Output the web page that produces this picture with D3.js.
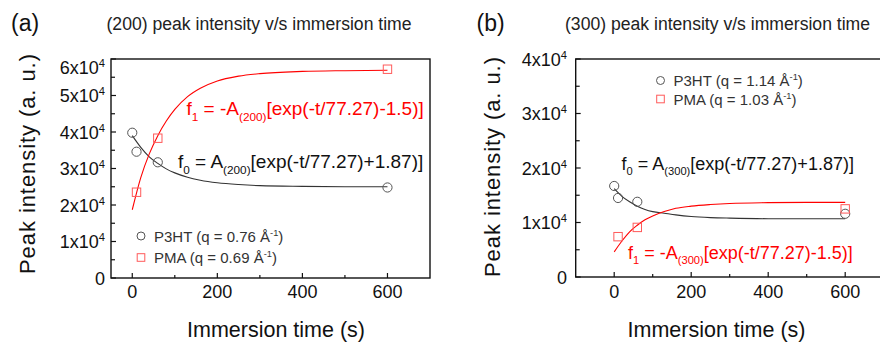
<!DOCTYPE html>
<html>
<head>
<meta charset="utf-8">
<script src="https://cdn.jsdelivr.net/npm/d3@7"></script>
<style>
  body { margin: 0; background: #fff; }
  svg { display: block; font-family: "Liberation Sans", Arial, sans-serif; }
</style>
</head>
<body>
<svg id="chart" width="880" height="342"></svg>
<script>
const majorX = [0, 200, 400, 600];
const minorX = [100, 300, 500];
const fitTime = [0, 20, 40, 60, 80, 100, 130, 160, 200, 250, 300, 400, 500, 600];

// (200) panel
const timeA_P3HT = [0, 10, 60, 600];
const valA_P3HT = [3.98e4, 3.46e4, 3.17e4, 2.48e4];
const timeA_PMA = [10, 60, 600];
const valA_PMA = [2.35e4, 3.83e4, 5.72e4];
const fitA_P3HT = [3.90e4, 3.58e4, 3.32e4, 3.14e4, 2.99e4, 2.88e4, 2.76e4, 2.68e4, 2.61e4, 2.56e4, 2.53e4, 2.51e4, 2.50e4, 2.50e4];
const fitA_PMA = [1.87e4, 2.75e4, 3.40e4, 3.90e4, 4.30e4, 4.62e4, 4.97e4, 5.20e4, 5.40e4, 5.53e4, 5.60e4, 5.66e4, 5.68e4, 5.69e4];
const yTicksA = [0, 1e4, 2e4, 3e4, 4e4, 5e4, 6e4];

// (300) panel
const timeB_P3HT = [0, 10, 60, 600];
const valB_P3HT = [1.67e4, 1.45e4, 1.38e4, 1.16e4];
const timeB_PMA = [10, 60, 600];
const valB_PMA = [0.74e4, 0.91e4, 1.25e4];
const fitB_P3HT = [1.62e4, 1.48e4, 1.38e4, 1.30e4, 1.24e4, 1.20e4, 1.17e4, 1.14e4, 1.11e4, 1.09e4, 1.08e4, 1.07e4, 1.07e4, 1.07e4];
const fitB_PMA = [0.46e4, 0.66e4, 0.83e4, 0.95e4, 1.05e4, 1.12e4, 1.20e4, 1.26e4, 1.30e4, 1.33e4, 1.35e4, 1.365e4, 1.37e4, 1.37e4];
const yTicksB = [0, 1e4, 2e4, 3e4, 4e4];

const svg = d3.select("#chart");
const RED = "#ff0000", MARK_RED = "#ff5a5a", GREY = "#555";

// write text made of plain / sup / sub pieces
function rich(g, parts, size) {
  let shift = 0;
  parts.forEach(p => {
    let target = p[1] === "sup" ? -size * 0.38 : p[1] === "sub" ? size * 0.3 : 0;
    g.append("tspan")
      .attr("dy", target - shift)
      .attr("font-size", p[1] ? size * 0.62 : size)
      .text(p[0]);
    shift = target;
  });
  return g;
}

function panel(cfg) {
  const x = d3.scaleLinear().domain(cfg.xDomain).range([cfg.left, cfg.right]);
  const y = d3.scaleLinear().domain(cfg.yDomain).range([cfg.bottom, cfg.top]);
  const g = svg.append("g");

  // frame
  g.append("rect")
    .attr("x", cfg.left).attr("y", cfg.top)
    .attr("width", cfg.right - cfg.left).attr("height", cfg.bottom - cfg.top)
    .attr("fill", "none").attr("stroke", "#111").attr("stroke-width", 1.4);

  // ticks (inward)
  majorX.forEach(t => g.append("line").attr("x1", x(t)).attr("x2", x(t))
    .attr("y1", cfg.bottom).attr("y2", cfg.bottom - 5).attr("stroke", "#111").attr("stroke-width", 1.2));
  minorX.forEach(t => g.append("line").attr("x1", x(t)).attr("x2", x(t))
    .attr("y1", cfg.bottom).attr("y2", cfg.bottom - 3).attr("stroke", "#111").attr("stroke-width", 1.2));
  cfg.yTicks.forEach((v, i) => {
    g.append("line").attr("x1", cfg.left).attr("x2", cfg.left + 5)
      .attr("y1", y(v)).attr("y2", y(v)).attr("stroke", "#111").attr("stroke-width", 1.2);
    if (i < cfg.yTicks.length - 1) {
      const m = (v + cfg.yTicks[i + 1]) / 2;
      g.append("line").attr("x1", cfg.left).attr("x2", cfg.left + 4)
        .attr("y1", y(m)).attr("y2", y(m)).attr("stroke", "#111").attr("stroke-width", 1.2);
    }
  });

  // tick labels
  majorX.forEach(t => g.append("text").attr("x", x(t)).attr("y", 298)
    .attr("text-anchor", "middle").attr("font-size", 18).attr("fill", "#111").text(t));
  cfg.yTicks.forEach((v, i) => {
    const ty = y(v) + 6.5 + (cfg.topNudge && i === cfg.yTicks.length - 1 ? cfg.topNudge : 0);
    const txt = g.append("text").attr("x", cfg.labelRight).attr("y", ty)
      .attr("text-anchor", "end").attr("fill", "#111");
    if (v === 0) rich(txt, [["0"]], 18);
    else rich(txt, [[(v / 1e4) + "x10"], ["4", "sup"]], 18);
  });

  // fits
  const line = d3.line().x((d, i) => x(fitTime[i])).y(d => y(d)).curve(d3.curveMonotoneX);
  g.append("path").attr("d", line(cfg.fitP3HT)).attr("fill", "none")
    .attr("stroke", "#333").attr("stroke-width", 1.1);
  g.append("path").attr("d", line(cfg.fitPMA)).attr("fill", "none")
    .attr("stroke", RED).attr("stroke-width", 1.1);

  // points
  cfg.timeP3HT.forEach((t, i) => g.append("circle").attr("cx", x(t)).attr("cy", y(cfg.valP3HT[i]))
    .attr("r", 4.6).attr("fill", "none").attr("stroke", GREY).attr("stroke-width", 1));
  cfg.timePMA.forEach((t, i) => g.append("rect").attr("x", x(t) - 4.2).attr("y", y(cfg.valPMA[i]) - 4.2)
    .attr("width", 8.4).attr("height", 8.4).attr("fill", "none").attr("stroke", MARK_RED).attr("stroke-width", 1));

  // legend
  const L = cfg.legend;
  g.append("circle").attr("cx", L.x).attr("cy", L.y1).attr("r", 4)
    .attr("fill", "none").attr("stroke", GREY).attr("stroke-width", 1);
  g.append("rect").attr("x", L.x - 3.8).attr("y", L.y2 - 3.8).attr("width", 7.6).attr("height", 7.6)
    .attr("fill", "none").attr("stroke", MARK_RED).attr("stroke-width", 1);
  rich(g.append("text").attr("x", L.tx).attr("y", L.y1 + 5.5).attr("fill", "#333"),
    [[L.lab1], ["-1", "sup"], [")"]], 15);
  rich(g.append("text").attr("x", L.tx).attr("y", L.y2 + 5.5).attr("fill", "#333"),
    [[L.lab2], ["-1", "sup"], [")"]], 15);

  // equations
  const E = cfg.eq;
  rich(g.append("text").attr("x", E.x0).attr("y", E.y0).attr("fill", "#111"),
    [["f"], ["0", "sub"], [" = A"], [cfg.plane, "sub"], ["[exp(-t/77.27)+1.87)]"]], E.size);
  rich(g.append("text").attr("x", E.x1).attr("y", E.y1).attr("fill", RED),
    [["f"], ["1", "sub"], [" = -A"], [cfg.plane, "sub"], ["[exp(-t/77.27)-1.5)]"]], E.size);

  // axis titles
  g.append("text").attr("x", cfg.xtX).attr("y", 336.5)
    .attr("text-anchor", "middle").attr("font-size", 21.5).attr("fill", "#111").text("Immersion time (s)");
  g.append("text").attr("transform", `translate(${cfg.ytX},${cfg.ytY}) rotate(-90)`)
    .attr("text-anchor", "middle").attr("font-size", 22).attr("fill", "#111")
    .attr("textLength", 220).attr("lengthAdjust", "spacing").text("Peak intensity (a. u.)");

  // panel letter and heading
  g.append("text").attr("x", cfg.letterX).attr("y", 30.5).attr("font-size", 23).attr("fill", "#111").text(cfg.letter);
  g.append("text").attr("x", cfg.titleX).attr("y", 30).attr("font-size", 17.6).attr("fill", "#222").text(cfg.title);
}

panel({
  xDomain: [-50, 700], yDomain: [0, 6e4], left: 111, right: 430, top: 59, bottom: 278,
  yTicks: yTicksA, labelRight: 105, topNudge: 8,
  timeP3HT: timeA_P3HT, valP3HT: valA_P3HT, timePMA: timeA_PMA, valPMA: valA_PMA,
  fitP3HT: fitA_P3HT, fitPMA: fitA_PMA, plane: "(200)",
  legend: { x: 141, y1: 236, y2: 257.5, tx: 154, lab1: "P3HT (q = 0.76 Å", lab2: "PMA (q = 0.69 Å" },
  eq: { x0: 178, y0: 168, x1: 186.5, y1: 115, size: 19 },
  xtX: 276, ytX: 35, ytY: 164, letter: "(a)", letterX: 11, title: "(200) peak intensity v/s immersion time", titleX: 106.5
});

panel({
  xDomain: [-100, 700], yDomain: [0, 4e4], left: 575.7, right: 883.7, top: 59, bottom: 277,
  yTicks: yTicksB, labelRight: 567,
  timeP3HT: timeB_P3HT, valP3HT: valB_P3HT, timePMA: timeB_PMA, valPMA: valB_PMA,
  fitP3HT: fitB_P3HT, fitPMA: fitB_PMA, plane: "(300)",
  legend: { x: 660.5, y1: 80.5, y2: 99, tx: 673.5, lab1: "P3HT (q = 1.14 Å", lab2: "PMA (q = 1.03 Å" },
  eq: { x0: 621.5, y0: 170, x1: 628, y1: 258.5, size: 18 },
  xtX: 716.5, ytX: 500, ytY: 167, letter: "(b)", letterX: 476.5, title: "(300) peak intensity v/s immersion time", titleX: 565
});
</script>
</body>
</html>
